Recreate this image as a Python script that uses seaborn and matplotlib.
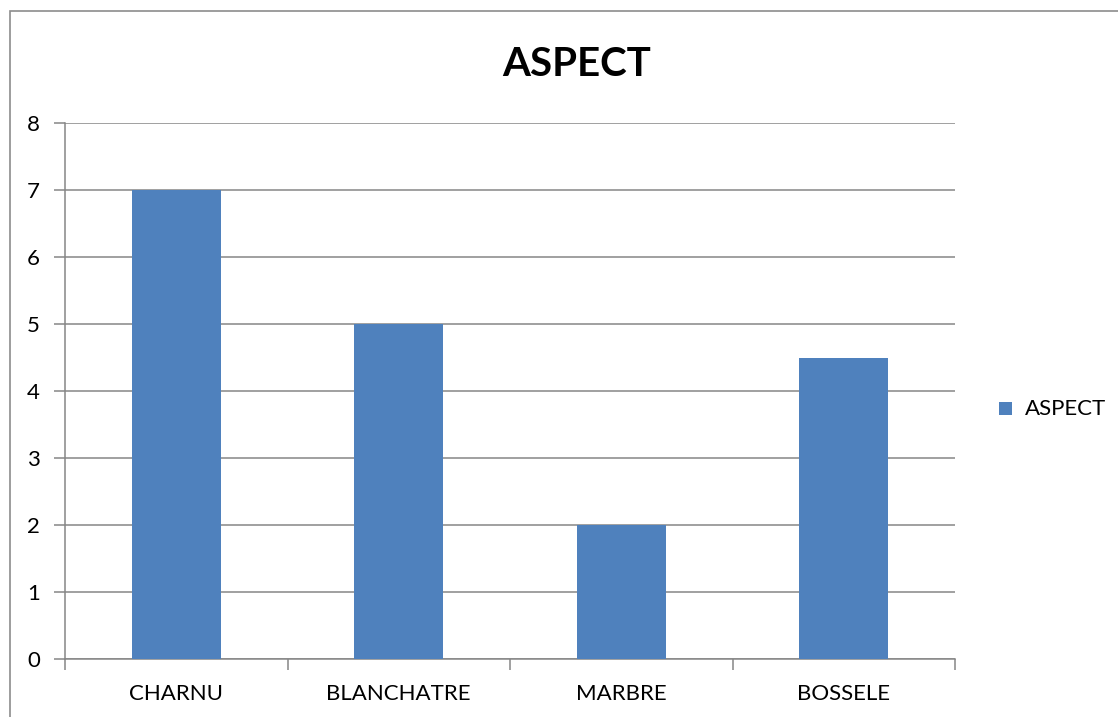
import matplotlib
matplotlib.use("Agg")
import matplotlib.pyplot as plt
import matplotlib.patches as mpatches
import seaborn as sns
import pandas as pd

categories = ["CHARNU", "BLANCHATRE", "MARBRE", "BOSSELE"]
values = [7, 5, 2, 4.5]
series_name = "ASPECT"
y_ticks = [0, 1, 2, 3, 4, 5, 6, 7, 8]

sns.set_theme(style="white")
plt.rcParams["font.family"] = ["Lato", "DejaVu Sans"]

W, H = 1118, 717
fig = plt.figure(figsize=(W / 100, H / 100), dpi=100)
fig.patch.set_facecolor("white")

# outer chart frame
fig.add_artist(mpatches.Rectangle((10 / W, -0.1), 1.2, (H - 11) / H + 0.1,
                                  transform=fig.transFigure, fill=False,
                                  edgecolor="#8c8c8c", linewidth=1.2))

ax = fig.add_axes([65 / W, (H - 659) / H, (955 - 65) / W, (659 - 123) / H])
df = pd.DataFrame({"cat": categories, "val": values})
bar_color = "#4F81BD"
sns.barplot(data=df, x="cat", y="val", color=bar_color, width=0.4,
            saturation=1, ax=ax, zorder=3, linewidth=0, edgecolor="none")

ax.set_xlim(-0.5, len(categories) - 0.5)
ax.set_ylim(0, 8)
ax.set_yticks(y_ticks)
ax.yaxis.grid(True, color="#868686", linewidth=1.1, zorder=0)
ax.set_axisbelow(True)
ax.set_xlabel("")
ax.set_ylabel("")

for side in ["top", "right"]:
    ax.spines[side].set_visible(False)
for side in ["left", "bottom"]:
    ax.spines[side].set_color("#868686")
    ax.spines[side].set_linewidth(1.1)

ax.tick_params(axis="y", which="major", length=8, width=1.1, color="#868686",
               labelsize=16, pad=10, labelcolor="black", left=True)
ax.set_xticks(range(len(categories)))
ax.set_xticklabels(categories)
ax.tick_params(axis="x", which="major", length=0, labelsize=16, pad=18,
               labelcolor="black")
ax.set_xticks([i - 0.5 for i in range(len(categories) + 1)], minor=True)
ax.tick_params(axis="x", which="minor", length=8, width=1.1, color="#868686",
               bottom=True)

fig.text(577 / W, 1 - 65 / H, series_name, ha="center", va="center",
         fontsize=29, fontweight="bold", color="black")

# legend
fig.add_artist(mpatches.Rectangle((999 / W, 1 - 415 / H), 13 / W, 13 / H,
                                  transform=fig.transFigure,
                                  facecolor=bar_color, edgecolor="none"))
fig.text(1025 / W, 1 - 409 / H, series_name, ha="left", va="center",
         fontsize=16, color="black")

fig.savefig("out.png", dpi=100)
